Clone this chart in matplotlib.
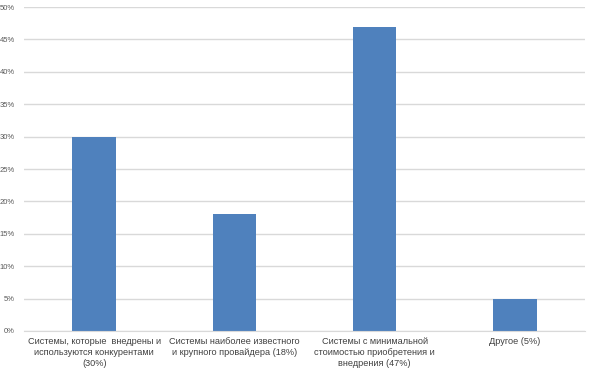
import matplotlib
matplotlib.use("Agg")
import matplotlib.pyplot as plt
from matplotlib.ticker import MultipleLocator, FuncFormatter

categories = [
    "Системы, которые  внедрены и\nиспользуются конкурентами\n(30%)",
    "Системы наиболее известного\nи крупного провайдера (18%)",
    "Системы с минимальной\nстоимостью приобретения и\nвнедрения (47%)",
    "Другое (5%)",
]
values = [30, 18, 47, 5]

plt.rcParams["font.family"] = ["Liberation Sans", "DejaVu Sans"]

fig = plt.figure(figsize=(5.92, 3.74), dpi=100)
ax = fig.add_axes([0.0405, 0.115, 0.948, 0.866])

x = range(len(values))
ax.bar(x, values, width=0.31, color="#4F81BD", zorder=2)

ax.set_xlim(-0.5, len(values) - 0.5)
ax.set_ylim(0, 50)
ax.yaxis.set_major_locator(MultipleLocator(5))
ax.yaxis.set_major_formatter(FuncFormatter(lambda v, p: "{:d}%".format(int(v))))
ax.grid(axis="y", color="#D9D9D9", linewidth=1, zorder=0)
ax.set_xticks(list(x))
ax.set_xticklabels(categories, fontsize=6.6, color="#404040", linespacing=1.28)
ax.tick_params(axis="y", labelsize=5.5, labelcolor="#595959", length=0, pad=6.5)
ax.tick_params(axis="x", length=0, pad=4.5)
for s in ["top", "right", "left"]:
    ax.spines[s].set_visible(False)
ax.spines["bottom"].set_color("#D9D9D9")

fig.savefig("out.png", dpi=100)
